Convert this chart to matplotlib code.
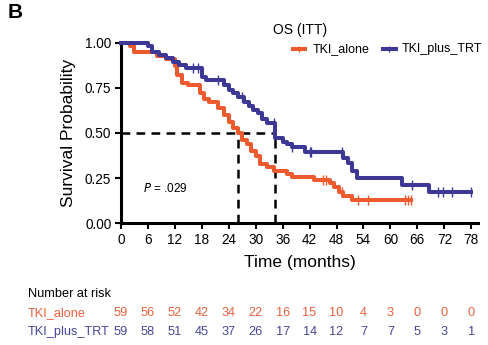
import numpy as np
import matplotlib
matplotlib.use("Agg")
import matplotlib.pyplot as plt
import matplotlib.transforms as mtransforms
from matplotlib.lines import Line2D

plt.rcParams['font.family'] = ['Liberation Sans', 'DejaVu Sans']

# Kaplan-Meier steps (time in months, survival after the step)
alone_t = [0, 2, 3, 8, 10, 12, 12.5, 13.5, 15, 17.5, 18.5, 19.5, 21.5, 23, 24, 25, 26, 27, 28, 29, 30,
           31, 32.5, 34, 37, 38, 43, 46.5, 47.5, 48.5, 49.5, 51.5]
alone_s = [1.0, 0.983, 0.95, 0.93, 0.91, 0.87, 0.82, 0.78, 0.765, 0.72, 0.69, 0.67, 0.64, 0.60, 0.56,
           0.53, 0.50, 0.46, 0.44, 0.40, 0.37, 0.33, 0.31, 0.29, 0.275, 0.256, 0.24, 0.225, 0.20,
           0.17, 0.15, 0.128]
alone_cens = [45, 45.7, 49.3, 52.8, 55, 63.3, 64, 64.5]

trt_t = [0, 6, 7, 8.5, 10, 11.5, 13, 14.5, 18, 19, 23, 24, 25, 26, 27.5, 28.5, 29.5, 30.5, 31.5,
         32.5, 34.4, 36, 37, 38, 41, 49.5, 50.5, 51.5, 52.5, 62.5, 68.5]
trt_s = [1.0, 0.983, 0.95, 0.933, 0.915, 0.895, 0.878, 0.86, 0.81, 0.795, 0.765, 0.74, 0.72, 0.70,
         0.67, 0.65, 0.63, 0.61, 0.58, 0.555, 0.47, 0.45, 0.44, 0.42, 0.395, 0.36, 0.335, 0.29,
         0.25, 0.21, 0.172]
trt_cens = [16, 17.2, 21.7, 27, 34, 38, 42, 42.4, 49.2, 64.8, 70.7, 71.8, 73.8, 78]

medians = [26, 34.4]

risk_times = list(range(0, 79, 6))
risk_alone = [59, 56, 52, 42, 34, 22, 16, 15, 10, 4, 3, 0, 0, 0]
risk_trt = [59, 58, 51, 45, 37, 26, 17, 14, 12, 7, 7, 5, 3, 1]

red = '#EC5A2E'
blue = '#3D3895'
red_txt = '#E8613D'
blue_txt = '#4A4598'


def step_at(times, surv, x):
    idx = np.searchsorted(times, x, side='right') - 1
    return np.array(surv)[idx]


fig = plt.figure(figsize=(4.89, 3.45), dpi=100)
ax = fig.add_axes([0.2474, 0.3536, 0.7301, 0.5218])

for t, s, cens, col in [(alone_t, alone_s, alone_cens, red),
                        (trt_t, trt_s, trt_cens, blue)]:
    tt = list(t) + [max(cens)]
    ss = list(s) + [s[-1]]
    ax.step(tt, ss, where='post', color=col, lw=2.9, clip_on=False, zorder=3)
    ax.plot(cens, step_at(t, s, cens), linestyle='none', marker='|', markersize=6.5,
            mew=1.0, color=col, clip_on=False, zorder=4)

# median lines
ax.plot([0, medians[1]], [0.5, 0.5], color='black', lw=1.8, ls=(0, (3.5, 2.5)), zorder=2)
for m in medians:
    ax.plot([m, m], [0, 0.5], color='black', lw=1.8, ls=(0, (3.5, 2.5)), zorder=2)

ax.text(4.9, 0.19, '$P$ = .029', fontsize=8.5, va='center', ha='left')

ax.set_xlim(0, 79.5)
ax.set_ylim(0, 1.0)
ax.set_xticks(risk_times)
ax.set_yticks([0, 0.25, 0.5, 0.75, 1.0])
ax.set_yticklabels(['0.00', '0.25', '0.50', '0.75', '1.00'])
ax.tick_params(labelsize=9.8, width=1.5, length=4, direction='out', pad=3)
for side in ['top', 'right']:
    ax.spines[side].set_visible(False)
for side in ['left', 'bottom']:
    ax.spines[side].set_linewidth(2.2)
ax.set_xlabel('Time (months)', fontsize=12.5, labelpad=6)
ax.set_ylabel('Survival Probability', fontsize=12.5, labelpad=6)

# legend, drawn by hand to keep it compact
W, H = 489, 345
ly = 1 - 49 / H
for x0, x1, tx, col, lab in [(293, 305, 313, red, 'TKI_alone'),
                             (383, 396, 402, blue, 'TKI_plus_TRT')]:
    fig.add_artist(Line2D([x0 / W, x1 / W], [ly, ly], color=col, lw=2.9))
    fig.add_artist(Line2D([(x0 + x1) / 2 / W], [ly], color=col, marker='|',
                          markersize=5, mew=1.0))
    fig.text(tx / W, ly, lab, fontsize=9, va='center', ha='left')
fig.text(273 / W, 1 - 30 / H, 'OS (ITT)', fontsize=10, va='center', ha='left')

fig.text(8 / W, 1 - 12 / H, 'B', fontsize=15, fontweight='bold', va='center', ha='left')

# number at risk table
trans = mtransforms.blended_transform_factory(ax.transData, fig.transFigure)
fig.text(28 / W, 1 - 294 / H, 'Number at risk', fontsize=9.2, va='center')
fig.text(28 / W, 1 - 313 / H, 'TKI_alone', fontsize=9.2, va='center', color=red_txt)
fig.text(28 / W, 1 - 332 / H, 'TKI_plus_TRT', fontsize=9.2, va='center', color=blue_txt)
for x, a, b in zip(risk_times, risk_alone, risk_trt):
    fig.text(x, 1 - 313 / H, str(a), fontsize=9.2, va='center', ha='center',
             color=red_txt, transform=trans)
    fig.text(x, 1 - 332 / H, str(b), fontsize=9.2, va='center', ha='center',
             color=blue_txt, transform=trans)

fig.savefig('out.png', dpi=100)
